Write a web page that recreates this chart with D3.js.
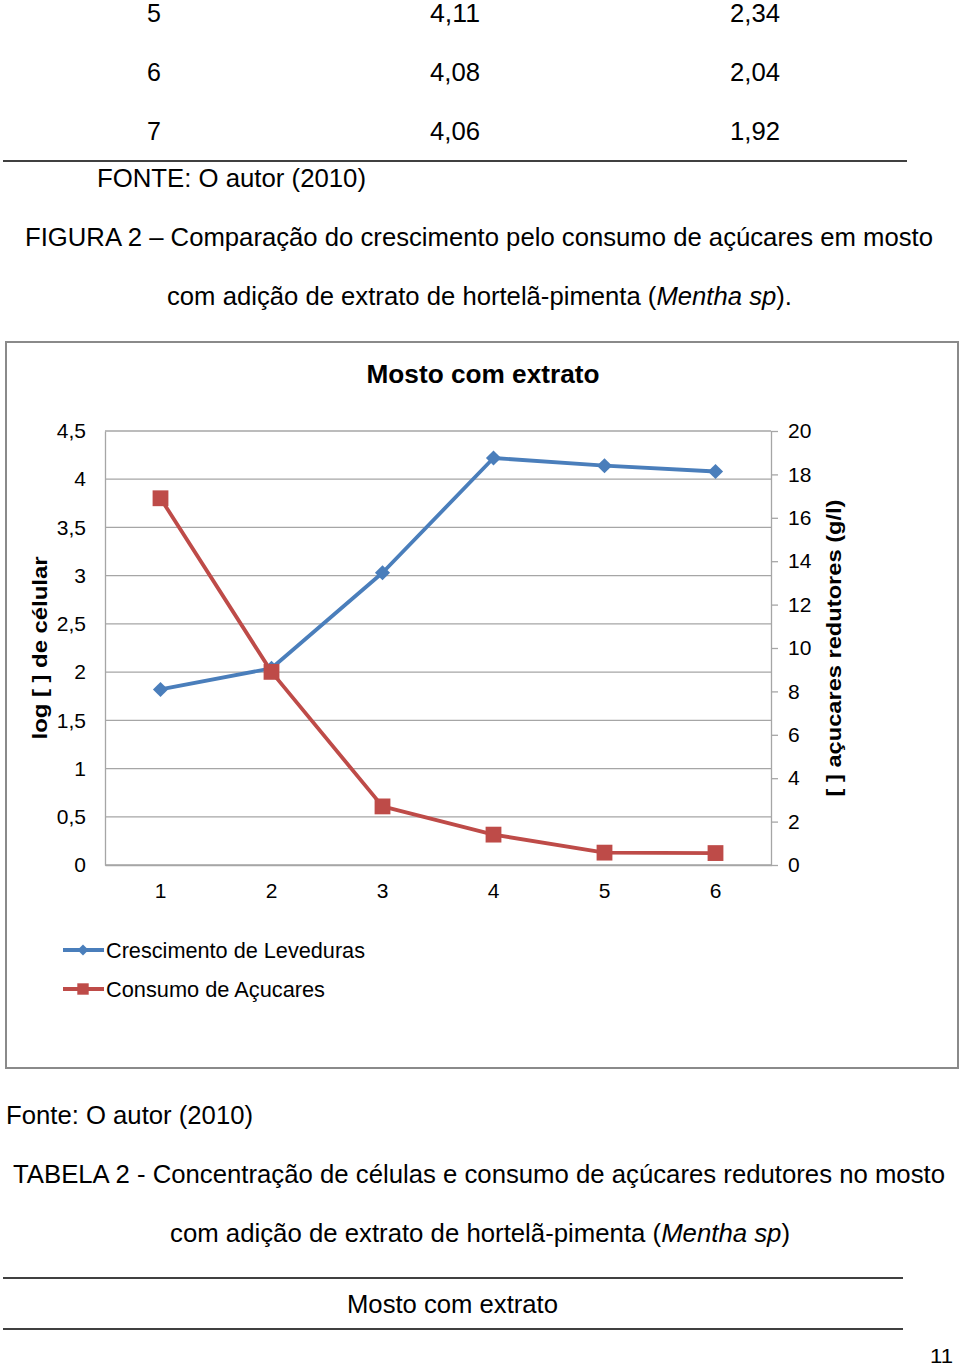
<!DOCTYPE html>
<html>
<head>
<meta charset="utf-8">
<script src="https://cdn.jsdelivr.net/npm/d3@7"></script>
<style>
  html, body { margin: 0; padding: 0; background: #fff; }
  svg { display: block; font-family: "Liberation Sans", Arial, sans-serif; }
</style>
</head>
<body>
<svg id="page" width="960" height="1368"></svg>
<script>
// ---- data ----
const categories = ["1", "2", "3", "4", "5", "6"];
const crescimento = [1.82, 2.04, 3.03, 4.22, 4.14, 4.08];   // left axis: log [ ] de célula
const consumo = [16.9, 8.9, 2.7, 1.4, 0.57, 0.55];         // right axis: [ ] açucares redutores (g/l)
const leftTicks = [0, 0.5, 1, 1.5, 2, 2.5, 3, 3.5, 4, 4.5];
const rightTicks = [0, 2, 4, 6, 8, 10, 12, 14, 16, 18, 20];
const seriesNames = ["Crescimento de Leveduras", "Consumo de Açucares"];
const chartTitle = "Mosto com extrato";
const leftTitle = "log [ ] de célular";
const rightTitle = "[ ] açucares redutores (g/l)";

const tableRows = [["5", "4,11", "2,34"], ["6", "4,08", "2,04"], ["7", "4,06", "1,92"]];

const svg = d3.select("#page");
const fmt = v => String(v).replace(".", ",");

// ---- page text ----
const page = svg.append("g").attr("fill", "#000").style("font-size", "25px");
function ptext(x, y, parts, anchor, len) {
  const t = page.append("text").attr("x", x).attr("y", y).attr("dominant-baseline", "central")
    .attr("text-anchor", anchor || "start");
  parts.forEach(p => {
    const s = t.append("tspan").text(p.t);
    if (p.i) s.style("font-style", "italic");
  });
  if (len) t.attr("textLength", len).attr("lengthAdjust", "spacingAndGlyphs");
  return t;
}
const rowY = [13, 72, 131];
tableRows.forEach((r, i) => {
  ptext(154, rowY[i], [{t: r[0]}], "middle");
  ptext(430, rowY[i], [{t: r[1]}], "start", 50);
  ptext(730, rowY[i], [{t: r[2]}], "start", 50);
});
page.append("line").attr("x1", 3).attr("x2", 907).attr("y1", 161).attr("y2", 161).attr("stroke", "#000").attr("stroke-width", 1.5);
ptext(97, 178, [{t: "FONTE: O autor (2010)"}], "start", 269);
ptext(25, 237, [{t: "FIGURA 2 – Comparação do crescimento pelo consumo de açúcares em mosto"}], "start", 908);
ptext(167, 296, [{t: "com adição de extrato de hortelã-pimenta ("}, {t: "Mentha sp", i: true}, {t: ")."}], "start", 625);

ptext(6, 1115, [{t: "Fonte: O autor (2010)"}], "start", 247);
ptext(13, 1174, [{t: "TABELA 2 - Concentração de células e consumo de açúcares redutores no mosto"}], "start", 932);
ptext(170, 1233, [{t: "com adição de extrato de hortelã-pimenta ("}, {t: "Mentha sp", i: true}, {t: ")"}], "start", 620);
page.append("line").attr("x1", 3).attr("x2", 903).attr("y1", 1278).attr("y2", 1278).attr("stroke", "#000").attr("stroke-width", 1.5);
ptext(347, 1304, [{t: "Mosto com extrato"}], "start", 211);
page.append("line").attr("x1", 3).attr("x2", 903).attr("y1", 1329).attr("y2", 1329).attr("stroke", "#000").attr("stroke-width", 1.5);
ptext(953, 1355, [{t: "11"}], "end", 23).style("font-size", "21px");

// ---- chart ----
const chart = svg.append("g");
chart.append("rect").attr("x", 6).attr("y", 342).attr("width", 952).attr("height", 726)
  .attr("fill", "#fff").attr("stroke", "#8a8a8a").attr("stroke-width", 2);

const plot = {left: 105, right: 771, top: 431, bottom: 865};
const x = d3.scaleBand().domain(categories).range([plot.left, plot.right]);
const cx = c => x(c) + x.bandwidth() / 2;
const yL = d3.scaleLinear().domain([0, 4.5]).range([plot.bottom, plot.top]);
const yR = d3.scaleLinear().domain([0, 20]).range([plot.bottom, plot.top]);

// gridlines
chart.append("g").selectAll("line").data(leftTicks).join("line")
  .attr("x1", plot.left).attr("x2", plot.right)
  .attr("y1", d => yL(d)).attr("y2", d => yL(d))
  .attr("stroke", "#a6a6a6").attr("stroke-width", 1.3);

// left axis
const gL = chart.append("g").attr("transform", `translate(${plot.left},0)`)
  .call(d3.axisLeft(yL).tickValues(leftTicks).tickFormat(fmt).tickSize(0).tickPadding(19));
gL.select(".domain").attr("stroke", "#a6a6a6").attr("stroke-width", 1.3);
gL.selectAll("text").style("font-size", "21px").attr("fill", "#000").attr("font-family", "Liberation Sans, Arial, sans-serif");

// right axis
const gR = chart.append("g").attr("transform", `translate(${plot.right},0)`)
  .call(d3.axisRight(yR).tickValues(rightTicks).tickFormat(fmt).tickSize(7).tickSizeOuter(0).tickPadding(10));
gR.select(".domain").attr("stroke", "#a6a6a6").attr("stroke-width", 1.3);
gR.selectAll(".tick line").attr("stroke", "#a6a6a6").attr("stroke-width", 1.3);
gR.selectAll("text").style("font-size", "21px").attr("fill", "#000").attr("font-family", "Liberation Sans, Arial, sans-serif");

// bottom axis
const gB = chart.append("g").attr("transform", `translate(0,${plot.bottom})`)
  .call(d3.axisBottom(x).tickSize(0).tickPadding(18));
gB.select(".domain").attr("stroke", "#a6a6a6").attr("stroke-width", 1.3);
gB.selectAll("text").style("font-size", "21px").attr("fill", "#000").attr("font-family", "Liberation Sans, Arial, sans-serif");

// title
chart.append("text").attr("x", 483).attr("y", 374).attr("text-anchor", "middle").attr("dominant-baseline", "central")
  .style("font-size", "26px").style("font-weight", "bold").attr("textLength", 233).attr("lengthAdjust", "spacingAndGlyphs")
  .text(chartTitle);

// axis titles
chart.append("text").attr("transform", "translate(39,648) rotate(-90)").attr("text-anchor", "middle").attr("dominant-baseline", "central")
  .style("font-size", "21px").style("font-weight", "bold").attr("textLength", 183).attr("lengthAdjust", "spacingAndGlyphs")
  .text(leftTitle);
chart.append("text").attr("transform", "translate(833,648) rotate(-90)").attr("text-anchor", "middle").attr("dominant-baseline", "central")
  .style("font-size", "21px").style("font-weight", "bold").attr("textLength", 297).attr("lengthAdjust", "spacingAndGlyphs")
  .text(rightTitle);

const blue = "#4a7ebb", red = "#be4b48";

// series lines
const lineL = d3.line().x((d, i) => cx(categories[i])).y(d => yL(d));
const lineR = d3.line().x((d, i) => cx(categories[i])).y(d => yR(d));
chart.append("path").attr("d", lineL(crescimento)).attr("fill", "none").attr("stroke", blue).attr("stroke-width", 3.8).attr("stroke-linejoin", "round");
chart.append("path").attr("d", lineR(consumo)).attr("fill", "none").attr("stroke", red).attr("stroke-width", 3.8).attr("stroke-linejoin", "round");

chart.append("g").selectAll("path").data(crescimento).join("path")
  .attr("d", d3.symbol().type(d3.symbolSquare).size(115)())
  .attr("transform", (d, i) => `translate(${cx(categories[i])},${yL(d)}) rotate(45)`)
  .attr("fill", blue);
chart.append("g").selectAll("path").data(consumo).join("path")
  .attr("transform", (d, i) => `translate(${cx(categories[i])},${yR(d)})`)
  .attr("d", d3.symbol().type(d3.symbolSquare).size(250)()).attr("fill", red);

// legend
const legY = [950, 989];
const legColors = [blue, red];
const leg = chart.append("g");
seriesNames.forEach((n, i) => {
  leg.append("line").attr("x1", 63).attr("x2", 104).attr("y1", legY[i]).attr("y2", legY[i])
    .attr("stroke", legColors[i]).attr("stroke-width", 3.8);
  if (i === 0) {
    leg.append("path").attr("d", d3.symbol().type(d3.symbolSquare).size(60)())
      .attr("transform", `translate(83,${legY[i]}) rotate(45)`).attr("fill", blue);
  } else {
    leg.append("path").attr("d", d3.symbol().type(d3.symbolSquare).size(130)())
      .attr("transform", `translate(83,${legY[i]})`).attr("fill", red);
  }
  leg.append("text").attr("x", 106).attr("y", legY[i]).attr("dominant-baseline", "central")
    .style("font-size", "22px").attr("textLength", i === 0 ? 259 : 219).attr("lengthAdjust", "spacingAndGlyphs")
    .text(n);
});
</script>
</body>
</html>
